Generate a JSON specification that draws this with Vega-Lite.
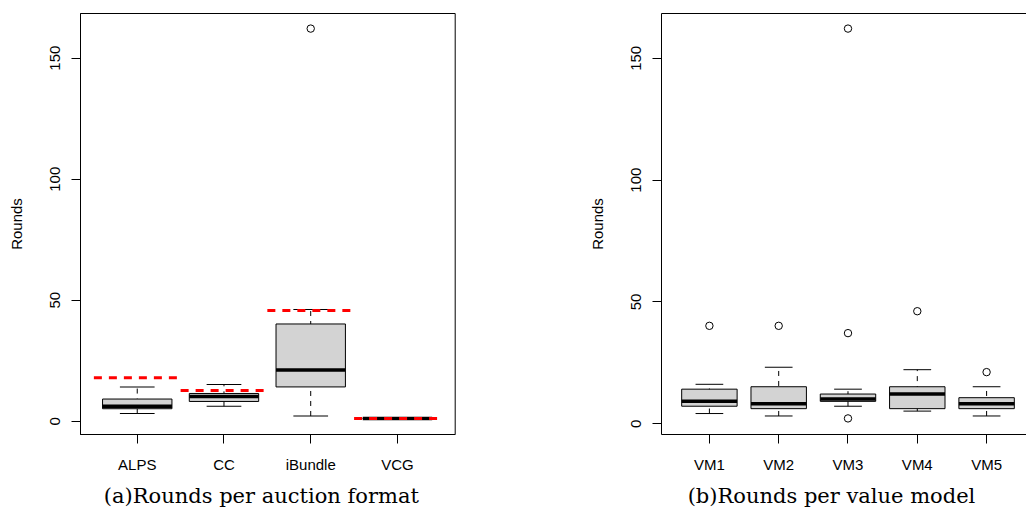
{
  "$schema": "https://vega.github.io/schema/vega-lite/v6.json",
  "padding": {"left": 9, "top": 12, "right": 0, "bottom": 0},
  "spacing": 134,
  "config": {
    "view": {"stroke": null},
    "font": "Liberation Sans",
    "tick": {"opacity": 1},
    "axis": {
      "domainColor": "black", "domainWidth": 1, "tickColor": "black", "tickWidth": 1, "tickSize": 9,
      "labelColor": "black", "labelFont": "Liberation Sans", "labelFontSize": 15, "grid": false,
      "titleFont": "Liberation Sans", "titleFontSize": 15, "titleFontWeight": "normal", "titleColor": "black"
    }
  },
  "datasets": {
    "formatStats": [
      {"format": "ALPS", "lower": 3, "q1": 5, "median": 6, "q3": 9, "upper": 14, "reference": 17.8},
      {"format": "CC", "lower": 6, "q1": 8, "median": 10, "q3": 11.3, "upper": 15, "reference": 12.5},
      {"format": "iBundle", "lower": 2, "q1": 14, "median": 21, "q3": 40, "upper": 46, "reference": 45.6},
      {"format": "VCG", "lower": 1, "q1": 1, "median": 1, "q3": 1, "upper": 1, "reference": 1}
    ],
    "formatOutliers": [
      {"format": "iBundle", "rounds": 162}
    ],
    "modelStats": [
      {"model": "VM1", "lower": 4, "q1": 7, "median": 9, "q3": 14, "upper": 16},
      {"model": "VM2", "lower": 3, "q1": 6, "median": 8, "q3": 15, "upper": 23},
      {"model": "VM3", "lower": 7, "q1": 9, "median": 10, "q3": 12, "upper": 14},
      {"model": "VM4", "lower": 5, "q1": 6, "median": 12, "q3": 15, "upper": 22},
      {"model": "VM5", "lower": 3, "q1": 6, "median": 8, "q3": 10.5, "upper": 15}
    ],
    "modelOutliers": [
      {"model": "VM1", "rounds": 40},
      {"model": "VM2", "rounds": 40},
      {"model": "VM3", "rounds": 37},
      {"model": "VM3", "rounds": 2},
      {"model": "VM3", "rounds": 162},
      {"model": "VM4", "rounds": 46},
      {"model": "VM5", "rounds": 21}
    ]
  },
  "hconcat": [
    {
      "width": 374.7,
      "height": 421,
      "view": {"stroke": "black", "strokeWidth": 1},
      "title": {"text": "(a)Rounds per auction format", "orient": "bottom", "anchor": "middle", "frame": "group",
        "font": "DejaVu Serif", "fontSize": 21, "fontWeight": "normal", "color": "black", "baseline": "alphabetic", "offset": 31, "dx": -6},
      "data": {"name": "formatStats"},
      "encoding": {
        "x": {"field": "format", "type": "nominal", "sort": null,
          "scale": {"type": "band", "paddingInner": 0, "paddingOuter": 0.16},
          "axis": {"title": null, "labelAngle": 0, "labelBaseline": "alphabetic", "labelPadding": 26}}
      },
      "layer": [
        {
          "mark": {"type": "rule", "color": "black", "strokeWidth": 1, "strokeDash": [5, 5]},
          "encoding": {
            "y": {"field": "lower", "type": "quantitative",
              "scale": {"domain": [-5.44, 168.44], "nice": false, "zero": false},
              "axis": {"title": "Rounds", "values": [0, 50, 100, 150], "labelAngle": 270, "labelAlign": "center",
                "labelBaseline": "alphabetic", "labelPadding": 12, "titleAngle": 270, "titleX": -58.3, "titleY": 210.5,
                "titleAlign": "center", "titleBaseline": "alphabetic"}},
            "y2": {"field": "upper"}
          }
        },
        {
          "mark": {"type": "tick", "color": "black", "size": 34.7, "thickness": 1, "opacity": 1},
          "encoding": {"y": {"field": "lower", "type": "quantitative"}}
        },
        {
          "mark": {"type": "tick", "color": "black", "size": 34.7, "thickness": 1, "opacity": 1},
          "encoding": {"y": {"field": "upper", "type": "quantitative"}}
        },
        {
          "mark": {"type": "bar", "width": {"band": 0.8}, "fill": "#D3D3D3", "stroke": "black", "strokeWidth": 1, "opacity": 1},
          "encoding": {"y": {"field": "q1", "type": "quantitative"}, "y2": {"field": "q3"}}
        },
        {
          "mark": {"type": "tick", "color": "black", "size": 69.4, "thickness": 3.5, "opacity": 1},
          "encoding": {"y": {"field": "median", "type": "quantitative"}}
        },
        {
          "data": {"name": "formatOutliers"},
          "mark": {"type": "point", "shape": "circle", "filled": false, "stroke": "black", "strokeWidth": 1, "size": 55, "opacity": 1},
          "encoding": {"y": {"field": "rounds", "type": "quantitative"}}
        },
        {
          "mark": {"type": "rule", "color": "#FF0000", "strokeWidth": 3, "strokeDash": [8, 7]},
          "encoding": {
            "x": {"field": "format", "type": "nominal", "sort": null, "bandPosition": 0},
            "x2": {"field": "format", "bandPosition": 1},
            "y": {"field": "reference", "type": "quantitative"}
          }
        }
      ]
    },
    {
      "width": 365,
      "height": 421,
      "title": {"text": "(b)Rounds per value model", "orient": "bottom", "anchor": "middle", "frame": "group",
        "font": "DejaVu Serif", "fontSize": 21, "fontWeight": "normal", "color": "black", "baseline": "alphabetic", "offset": 31, "dx": -12},
      "data": {"name": "modelStats"},
      "encoding": {
        "x": {"field": "model", "type": "nominal", "sort": null,
          "scale": {"type": "band", "paddingInner": 0, "paddingOuter": 0.1335, "align": 0.743},
          "axis": null}
      },
      "resolve": {"axis": {"x": "independent"}},
      "layer": [
        {
          "mark": {"type": "rule", "color": "black", "strokeWidth": 1, "strokeDash": [5, 5]},
          "encoding": {
            "y": {"field": "lower", "type": "quantitative",
              "scale": {"domain": [-4.4, 168.4], "nice": false, "zero": false},
              "axis": {"title": "Rounds", "values": [0, 50, 100, 150], "labelAngle": 270, "labelAlign": "center",
                "labelBaseline": "alphabetic", "labelPadding": 12, "titleAngle": 270, "titleX": -58.3, "titleY": 210.5,
                "titleAlign": "center", "titleBaseline": "alphabetic"}},
            "y2": {"field": "upper"}
          }
        },
        {
          "mark": {"type": "tick", "color": "black", "size": 27.7, "thickness": 1, "opacity": 1},
          "encoding": {"y": {"field": "lower", "type": "quantitative"}}
        },
        {
          "mark": {"type": "tick", "color": "black", "size": 27.7, "thickness": 1, "opacity": 1},
          "encoding": {"y": {"field": "upper", "type": "quantitative"}}
        },
        {
          "mark": {"type": "bar", "width": {"band": 0.8}, "fill": "#D3D3D3", "stroke": "black", "strokeWidth": 1, "opacity": 1},
          "encoding": {
            "x": {"field": "model", "type": "nominal", "sort": null,
              "axis": {"title": null, "labelAngle": 0, "labelBaseline": "alphabetic", "labelPadding": 26}},
            "y": {"field": "q1", "type": "quantitative"}, "y2": {"field": "q3"}}
        },
        {
          "mark": {"type": "tick", "color": "black", "size": 55.4, "thickness": 3.5, "opacity": 1},
          "encoding": {"y": {"field": "median", "type": "quantitative"}}
        },
        {
          "data": {"name": "modelOutliers"},
          "mark": {"type": "point", "shape": "circle", "filled": false, "stroke": "black", "strokeWidth": 1, "size": 55, "opacity": 1},
          "encoding": {
            "x": {"field": "model", "type": "nominal", "sort": null,
              "axis": {"orient": "top", "title": null, "labels": false, "ticks": false, "domain": true}},
            "y": {"field": "rounds", "type": "quantitative"}}
        }
      ]
    }
  ]
}
